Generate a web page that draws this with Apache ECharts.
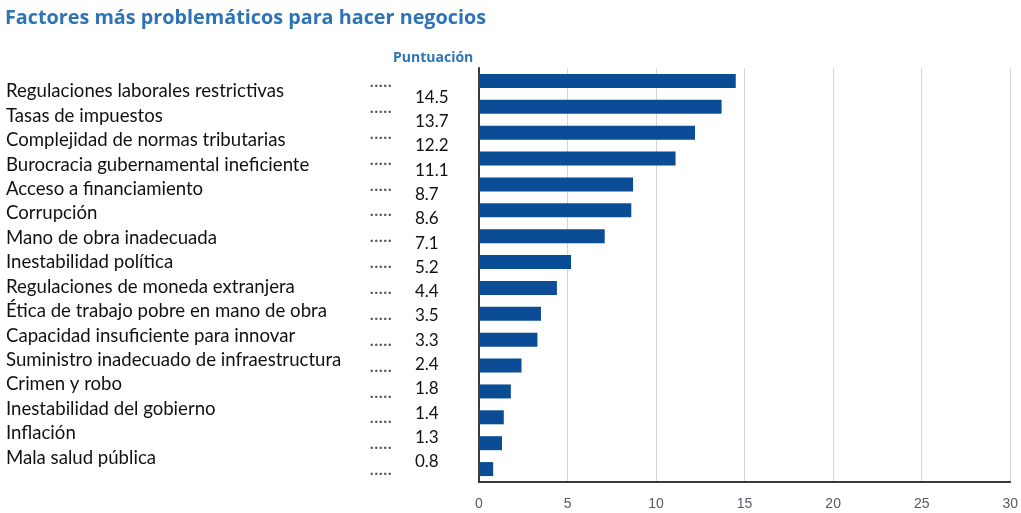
<!DOCTYPE html>
<html>
<head>
<meta charset="utf-8">
<script src="https://cdn.jsdelivr.net/npm/echarts@6/dist/echarts.min.js"></script>
<style>
  html, body { margin: 0; padding: 0; background: #fff; }
  #chart { width: 1021px; height: 513px; }
</style>
</head>
<body>
<div id="chart"></div>
<script>
const categories = [
  'Regulaciones laborales restrictivas',
  'Tasas de impuestos',
  'Complejidad de normas tributarias',
  'Burocracia gubernamental ineficiente',
  'Acceso a financiamiento',
  'Corrupción',
  'Mano de obra inadecuada',
  'Inestabilidad política',
  'Regulaciones de moneda extranjera',
  'Ética de trabajo pobre en mano de obra',
  'Capacidad insuficiente para innovar',
  'Suministro inadecuado de infraestructura',
  'Crimen y robo',
  'Inestabilidad del gobierno',
  'Inflación',
  'Mala salud pública'
];
const scores = [14.5, 13.7, 12.2, 11.1, 8.7, 8.6, 7.1, 5.2, 4.4, 3.5, 3.3, 2.4, 1.8, 1.4, 1.3, 0.8];
const xTicks = { min: 0, max: 30, interval: 5 };

const blue = '#0B4C96';
const titleFont = '"Open Sans", "Noto Sans", sans-serif';
const textFont = 'Lato, "Open Sans", sans-serif';

const chart = echarts.init(document.getElementById('chart'));

chart.setOption({
  animation: false,
  title: [
    {
      text: 'Factores más problemáticos para hacer negocios',
      left: 0,
      top: 3,
      textStyle: { color: '#2E74B5', fontSize: 19.8, fontWeight: 'bold', fontFamily: titleFont }
    },
    {
      text: 'Puntuación',
      left: 388,
      top: 46,
      textStyle: { color: '#2E74B5', fontSize: 14, fontWeight: 'bold', fontFamily: titleFont }
    }
  ],
  grid: [
    // bars
    { left: 479, right: 8, top: 68, bottom: 31 },
    // category names
    { left: 6, width: 350, top: 79, bottom: 43 },
    // value labels
    { left: 415, width: 50, top: 85, bottom: 39 }
  ],
  xAxis: [
    {
      gridIndex: 0,
      type: 'value',
      min: xTicks.min,
      max: xTicks.max,
      interval: xTicks.interval,
      axisLine: { show: true, lineStyle: { color: '#3a3a3a', width: 2 } },
      axisTick: { show: false },
      axisLabel: {
        color: '#555b66',
        fontSize: 14,
        margin: 15,
        fontFamily: '"Liberation Sans Narrow", "Arial Narrow", "Liberation Sans", sans-serif'
      },
      splitLine: { lineStyle: { color: '#d4d4d4', width: 1 } }
    },
    { gridIndex: 1, type: 'value', show: false },
    { gridIndex: 2, type: 'value', show: false }
  ],
  yAxis: [
    {
      gridIndex: 0,
      type: 'category',
      inverse: true,
      data: categories,
      axisLine: { show: true, lineStyle: { color: '#3a3a3a', width: 2 } },
      axisTick: { show: false },
      axisLabel: {
        interval: 0,
        formatter: () => '.....',
        color: '#555',
        fontSize: 19,
        margin: 87,
        fontFamily: textFont
      }
    },
    {
      gridIndex: 1,
      type: 'category',
      inverse: true,
      data: categories,
      axisLine: { show: false },
      axisTick: { show: false },
      axisLabel: {
        interval: 0,
        inside: true,
        margin: 0,
        color: '#111',
        fontSize: 18.6,
        fontFamily: textFont
      }
    },
    {
      gridIndex: 2,
      type: 'category',
      inverse: true,
      data: scores.map(v => v.toFixed(1)),
      axisLine: { show: false },
      axisTick: { show: false },
      axisLabel: {
        interval: 0,
        inside: true,
        margin: 0,
        color: '#111',
        fontSize: 17,
        fontFamily: textFont
      }
    }
  ],
  series: [
    {
      type: 'bar',
      xAxisIndex: 0,
      yAxisIndex: 0,
      data: scores,
      barWidth: 14,
      itemStyle: { color: blue },
      silent: true
    }
  ]
});
</script>
</body>
</html>
